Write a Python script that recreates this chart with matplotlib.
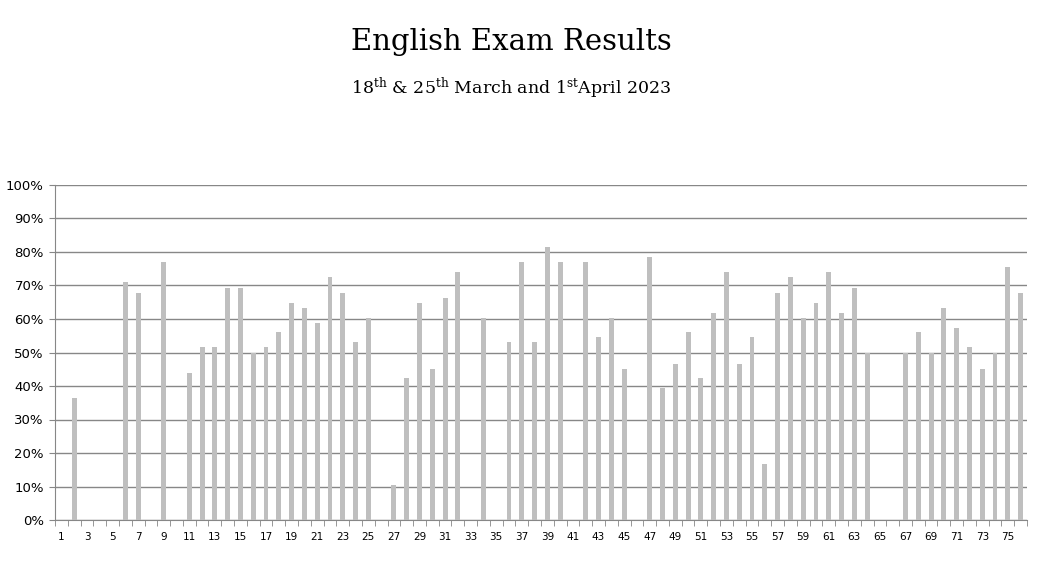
import numpy as np
import matplotlib.pyplot as plt
from matplotlib.ticker import FixedLocator, PercentFormatter

# Student numbers and their scores (None = no result)
students = list(range(1, 77))
scores = [
    None, 36.3, None, None, None, 71.1, 67.9, None, 77.1, None,
    43.8, 51.5, 51.5, 69.3, 69.3, 50.0, 51.5, 56.0, 64.9, 63.4,
    58.9, 72.6, 67.9, 53.0, 60.4, None, 10.4, 42.3, 64.9, 45.2,
    66.4, 74.1, None, 60.4, None, 53.0, 77.1, 53.0, 81.5, 77.1,
    None, 77.1, 54.5, 60.4, 45.2, None, 78.6, 39.3, 46.7, 56.0,
    42.3, 61.9, 74.1, 46.7, 54.5, 16.7, 67.9, 72.6, 60.4, 64.9,
    74.1, 61.9, 69.3, 50.0, None, None, 50.0, 56.0, 50.0, 63.4,
    57.4, 51.5, 45.2, 50.0, 75.6, 67.9,
]

title = "English Exam Results"
subtitle = r"18$^{\mathrm{th}}$ & 25$^{\mathrm{th}}$ March and 1$^{\mathrm{st}}$April 2023"

plt.rcParams['mathtext.fontset'] = 'dejavuserif'

xs = [s for s, v in zip(students, scores) if v is not None]
ys = [v / 100 for v in scores if v is not None]

fig = plt.figure(figsize=(10.44, 5.70), dpi=100)
ax = fig.add_axes([55 / 1044, 50 / 570, 972 / 1044, 335 / 570])

grid_col = '#878787'
ax.bar(xs, ys, width=0.38, color='#bfbfbf', zorder=3)

ax.set_xlim(0.5, 76.5)
ax.set_ylim(0, 1)
ax.set_yticks(np.arange(0, 1.01, 0.1))
ax.yaxis.set_major_formatter(PercentFormatter(1.0, decimals=0))
ax.yaxis.grid(True, color=grid_col, linewidth=1, zorder=0)

# labels on odd students, tick marks on category boundaries
ax.set_xticks(students[::2])
ax.xaxis.set_minor_locator(FixedLocator(np.arange(0.5, 77, 1)))
ax.tick_params(axis='x', which='major', length=0, labelsize=7.5, pad=9)
ax.tick_params(axis='x', which='minor', length=4, color=grid_col)
ax.tick_params(axis='y', length=4, color=grid_col, labelsize=9.5, pad=4)

for side in ['top', 'right']:
    ax.spines[side].set_visible(False)
for side in ['left', 'bottom']:
    ax.spines[side].set_color(grid_col)

fig.text(511 / 1044, 1 - 42 / 570, title, ha='center', va='center',
         fontsize=21, family='DejaVu Serif')
fig.text(511 / 1044, 1 - 88 / 570, subtitle, ha='center', va='center',
         fontsize=12.5, family='DejaVu Serif')

fig.savefig('out.png', dpi=100)
